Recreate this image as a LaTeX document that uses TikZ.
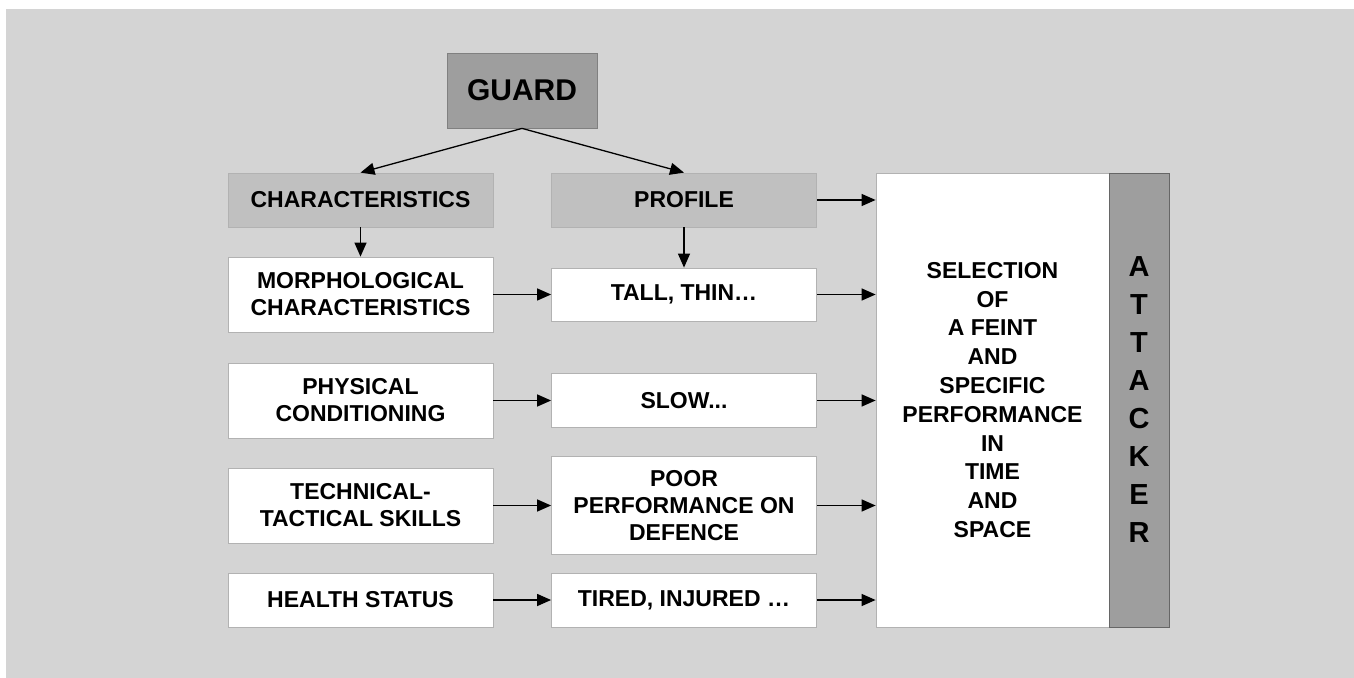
\documentclass[tikz,border=0pt]{standalone}
\usepackage{fontspec}
\setmainfont{Liberation Sans}
\usepackage{xcolor}
\usepackage{tikz}
\usetikzlibrary{arrows.meta}
\definecolor{bggray}{RGB}{212,212,212}
\definecolor{darkbox}{RGB}{158,158,158}
\definecolor{midbox}{RGB}{192,192,192}

\begin{document}
\begin{tikzpicture}[x=0.5pt, y=-0.5pt, font=\bfseries\fontsize{11.5}{13.5}\selectfont,
		box/.style={draw=black!30, line width=0.4pt, fill=white, inner sep=0pt, align=center, minimum width=132.5pt},
		head/.style={box, fill=midbox, minimum height=27pt},
		link/.style={-{Triangle[length=7pt,width=6pt]}, line width=0.65pt}]
			\useasboundingbox (0,0) rectangle (1354,678);
			\fill[white] (0,0) rectangle (1354,678);
			\fill[bggray] (6,9) rectangle (1354,678);
			\node[draw=black!50, fill=darkbox, minimum width=75pt, minimum height=37.5pt, font=\bfseries\fontsize{15}{18}\selectfont] at (522,90.5) (guard){GUARD};
			\node[head] at (360.5,200) (char){CHARACTERISTICS};
			\node[head] at (684,200) (profile){PROFILE};
			\node[box, minimum height=37.5pt] at (360.5,294.5) (morph){MORPHOLOGICAL\\CHARACTERISTICS};
			\node[box, minimum height=26.5pt] at (684,294.5) (tall){TALL, THIN…};
			\node[box, minimum height=37.5pt] at (360.5,400.5) (phys){PHYSICAL\\CONDITIONING};
			\node[box, minimum height=27pt] at (684,400.5) (slow){SLOW...};
			\node[box, minimum height=37.5pt] at (360.5,505.5) (tech){TECHNICAL-\\TACTICAL SKILLS};
			\node[box, minimum height=49pt] at (684,505.5) (poor){POOR\\PERFORMANCE ON\\DEFENCE};
			\node[box, minimum height=27pt] at (360.5,600) (health){HEALTH STATUS};
			\node[box, minimum height=27pt] at (684,600) (tired){TIRED, INJURED …};
			\node[box, minimum width=116.5pt, minimum height=227pt, font=\bfseries\fontsize{11.5}{14.4}\selectfont] at (992.5,400) (select){SELECTION\\OF\\A FEINT\\AND\\SPECIFIC\\PERFORMANCE\\IN\\TIME\\AND\\SPACE};
			\node[draw=black!60, fill=darkbox, inner sep=0pt, align=center, minimum width=30pt, minimum height=227pt, font=\bfseries\fontsize{14.5}{19}\selectfont] at (1139,400) (attacker){A\\T\\T\\A\\C\\K\\E\\R};
			\draw[link] (guard.south) -- (char.north);
			\draw[link] (guard.south) -- (profile.north);
			\draw[link] (char.south) -- (morph.north);
			\draw[link] (profile.south) -- (tall.north);
			\draw[link] (morph.east) -- (tall.west);
			\draw[link] (phys.east) -- (slow.west);
			\draw[link] (tech.east) -- (poor.west);
			\draw[link] (health.east) -- (tired.west);
			\draw[link] (profile.east) -- (profile.east -| select.west);
			\draw[link] (tall.east) -- (tall.east -| select.west);
			\draw[link] (slow.east) -- (slow.east -| select.west);
			\draw[link] (poor.east) -- (poor.east -| select.west);
			\draw[link] (tired.east) -- (tired.east -| select.west);
		\end{tikzpicture}
\end{document}
